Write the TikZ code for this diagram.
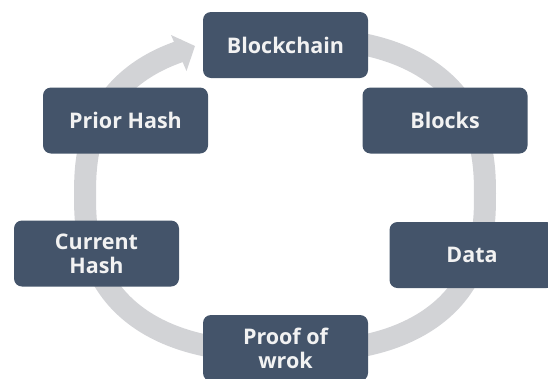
\documentclass[tikz,border=0pt]{standalone}
\usepackage{fontspec}
\setmainfont{Open Sans}
\definecolor{slate}{RGB}{68,84,106}
\definecolor{ringgray}{RGB}{210,211,214}
\definecolor{boxtext}{RGB}{242,242,242}
\tikzset{bkbox/.style={rounded corners=8pt, fill=slate, text=boxtext, minimum width=165pt, minimum height=66pt, align=center, inner sep=2pt, font=\bfseries\fontsize{21.5}{24}\selectfont}}
\tikzset{ring/.style={draw=ringgray, line width=22pt}}
\tikzset{ringhead/.style={fill=ringgray}}

\begin{document}
\begin{tikzpicture}[x=1pt, y=-1pt]
	\useasboundingbox (0,0) rectangle (548,378);
	% cycle behind the boxes
	\draw[ring] plot[domain=-80:245, samples=120, smooth, variable=\t]
		({285+200*cos(\t)*pow(abs(cos(\t))+0.0001,-0.2)},
		 {195+157*sin(\t)*pow(abs(sin(\t))+0.0001,-0.2)});
	\coordinate (hdA) at (171,35);
	\coordinate (hdB) at (186.5,71);
	\coordinate (hdtip) at (195,46);
	\fill[ringhead] (hdA) -- (hdtip) -- (hdB) -- cycle;
	\node[bkbox] (bc) at (285.5,45) {Blockchain};
	\node[bkbox] (blk) at (445,120.5) {Blocks};
	\node[bkbox] (dat) at (472,255) {Data};
	\node[bkbox] (pow) at (285.5,348) {Proof of\\wrok};
	\node[bkbox] (cur) at (96.5,253.5) {Current\\Hash};
	\node[bkbox] (pri) at (125.5,120.5) {Prior Hash};
\end{tikzpicture}
\end{document}
